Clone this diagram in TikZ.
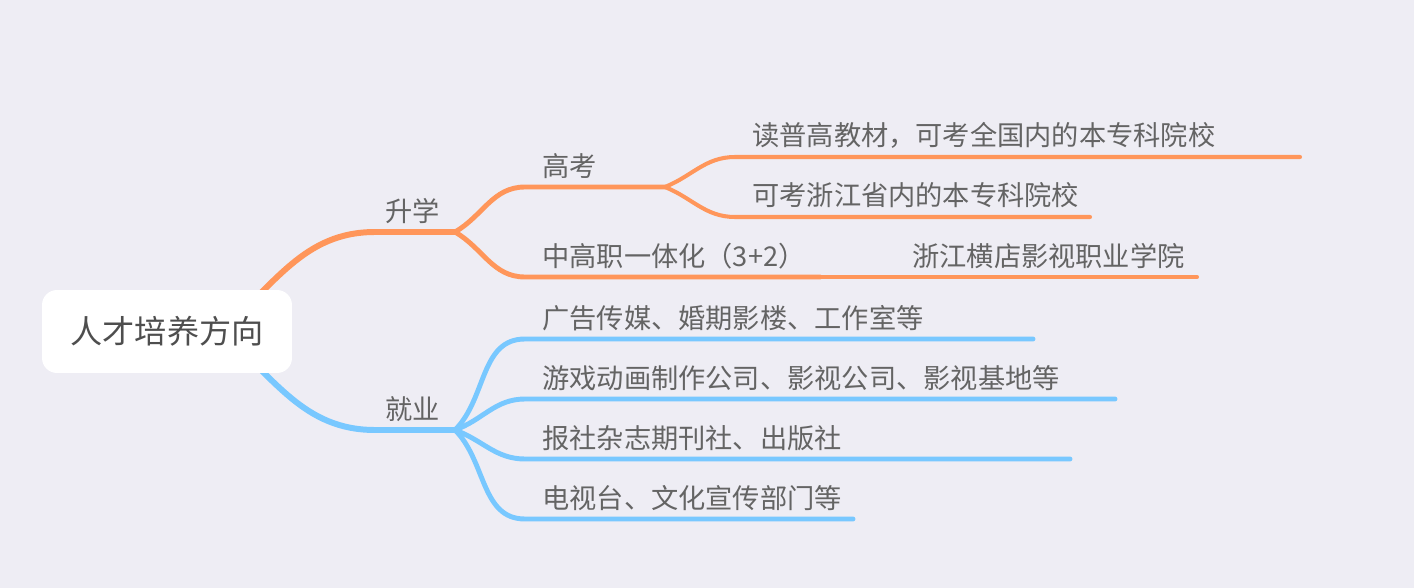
\documentclass[tikz,border=0pt]{standalone}
\usepackage{fontspec}
\newfontfamily\cjk{Noto Sans CJK SC}
\usetikzlibrary{calc, backgrounds}

\definecolor{bgcol}{RGB}{238,237,244}
\definecolor{orangeline}{RGB}{255,150,90}
\definecolor{blueline}{RGB}{120,200,255}
\definecolor{txtgray}{RGB}{100,100,100}
\definecolor{roottxt}{RGB}{78,78,78}

\begin{document}
\begin{tikzpicture}[
    x=0.02cm, y=-0.02cm,
    every node/.style={font=\cjk\fontsize{15.5pt}{18pt}\selectfont, text=txtgray, inner sep=0pt},
    topic/.style={anchor=base west},
    rootbox/.style={fill=white, rounded corners=0.3cm, minimum width=5cm, minimum height=1.66cm,
        font=\cjk\fontsize{18.3pt}{22pt}\selectfont, text=roottxt},
    lvla/.style={line width=3.4pt, line cap=round},
    lvlb/.style={line width=2.8pt, line cap=round},
    lvlc/.style={line width=2.3pt, line cap=round}
]
\useasboundingbox (0,0) rectangle (1414,588);

% central topic
\node[rootbox] (root) at (167,331.5) {人才培养方向};

% underline ends of every topic
\coordinate (sx-s) at (375,232);  \coordinate (sx-e) at (455,232);
\coordinate (gk-s) at (525,187);  \coordinate (gk-e) at (665,187);
\coordinate (zg-s) at (525,277);  \coordinate (zg-e) at (820,277);
\coordinate (hd-e) at (1197,277);
\coordinate (ga-s) at (735,157);  \coordinate (ga-e) at (1300,157);
\coordinate (gb-s) at (735,217);  \coordinate (gb-e) at (1090,217);
\coordinate (jy-s) at (375,430);  \coordinate (jy-e) at (455,430);
\coordinate (ja-s) at (525,339);  \coordinate (ja-e) at (1033,339);
\coordinate (jb-s) at (525,399);  \coordinate (jb-e) at (1115,399);
\coordinate (jc-s) at (525,459);  \coordinate (jc-e) at (1070,459);
\coordinate (jd-s) at (525,519);  \coordinate (jd-e) at (853,519);

% topic texts
\node[topic] (sx) at (385,221) {升学};
\node[topic] (gk) at (542,176) {高考};
\node[topic] (zg) at (542,266) {中高职一体化（3+2）};
\node[topic] (hd) at (912,266) {浙江横店影视职业学院};
\node[topic] (ga) at (752,146) {读普高教材，可考全国内的本专科院校};
\node[topic] (gb) at (752,206) {可考浙江省内的本专科院校};
\node[topic] (jy) at (385,419) {就业};
\node[topic] (ja) at (542,328) {广告传媒、婚期影楼、工作室等};
\node[topic] (jb) at (542,388) {游戏动画制作公司、影视公司、影视基地等};
\node[topic] (jc) at (542,448) {报社杂志期刊社、出版社};
\node[topic] (jd) at (542,508) {电视台、文化宣传部门等};

\begin{scope}[on background layer]
\fill[bgcol] (0,0) rectangle (1414,588);

% 升学 branch
\draw[lvla, orangeline] ($(root.center)+(53,0)$) to[out=40, in=180] (sx-s) -- (sx-e);
\draw[lvlb, orangeline] (sx-e) to[out=30, in=180] (gk-s) -- (gk-e);
\draw[lvlb, orangeline] (sx-e) to[out=-30, in=180] (zg-s) -- (zg-e);
\draw[lvlc, orangeline] (zg-e) -- (hd-e);
\draw[lvlc, orangeline] (gk-e) to[out=22, in=180] (ga-s) -- (ga-e);
\draw[lvlc, orangeline] (gk-e) to[out=-22, in=180] (gb-s) -- (gb-e);

% 就业 branch
\draw[lvla, blueline] ($(root.center)+(53,0)$) to[out=-40, in=180] (jy-s) -- (jy-e);
\draw[lvlb, blueline] (jy-e) to[out=45, in=180] (ja-s) -- (ja-e);
\draw[lvlb, blueline] (jy-e) to[out=20, in=180] (jb-s) -- (jb-e);
\draw[lvlb, blueline] (jy-e) to[out=-20, in=180] (jc-s) -- (jc-e);
\draw[lvlb, blueline] (jy-e) to[out=-45, in=180] (jd-s) -- (jd-e);
\end{scope}
\end{tikzpicture}
\end{document}
